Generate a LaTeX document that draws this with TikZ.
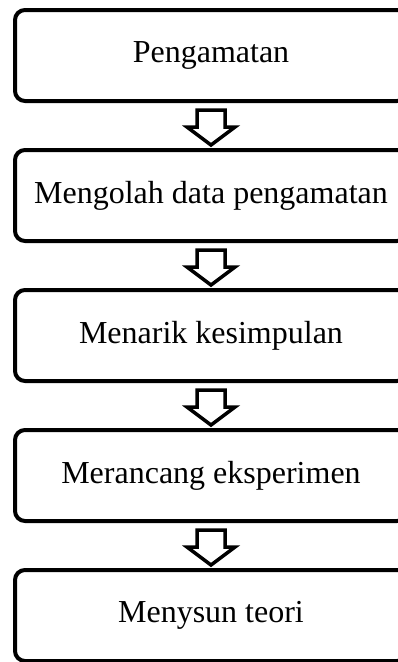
\documentclass[tikz,border=0pt]{standalone}
\usepackage{fontspec}
\setmainfont{Liberation Serif}
\usetikzlibrary{calc}
\tikzset{
  stepbox/.style={draw, line width=4pt, rounded corners=10pt, minimum width=392pt,
    minimum height=91pt, inner sep=0pt, font=\fontsize{32}{38}\selectfont},
  blockarrow/.style={draw, line width=3.5pt, line join=miter, fill=white}
}
\newcommand\downblock[1]{%
  \draw[blockarrow] ($(#1.south)+(-14,7)$) -- ($(#1.south)+(14,7)$) -- ($(#1.south)+(14,24)$)
    -- ($(#1.south)+(24,24)$) -- ($(#1.south)+(0,42)$) -- ($(#1.south)+(-24,24)$)
    -- ($(#1.south)+(-14,24)$) -- cycle;}
\begin{document}
\begin{tikzpicture}[x=1pt,y=-1pt]
\useasboundingbox (0,0) rectangle (398,662);
\clip (0,0) rectangle (398,662);
\node[stepbox] (b1) at (211,55.5) {Pengamatan};
\node[stepbox] (b2) at (211,195.5) {Mengolah data pengamatan};
\node[stepbox] (b3) at (211,335.5) {Menarik kesimpulan};
\node[stepbox] (b4) at (211,475.5) {Merancang eksperimen};
\node[stepbox] (b5) at (211,615.5) {Menysun teori};
\downblock{b1}
\downblock{b2}
\downblock{b3}
\downblock{b4}
\end{tikzpicture}
\end{document}
